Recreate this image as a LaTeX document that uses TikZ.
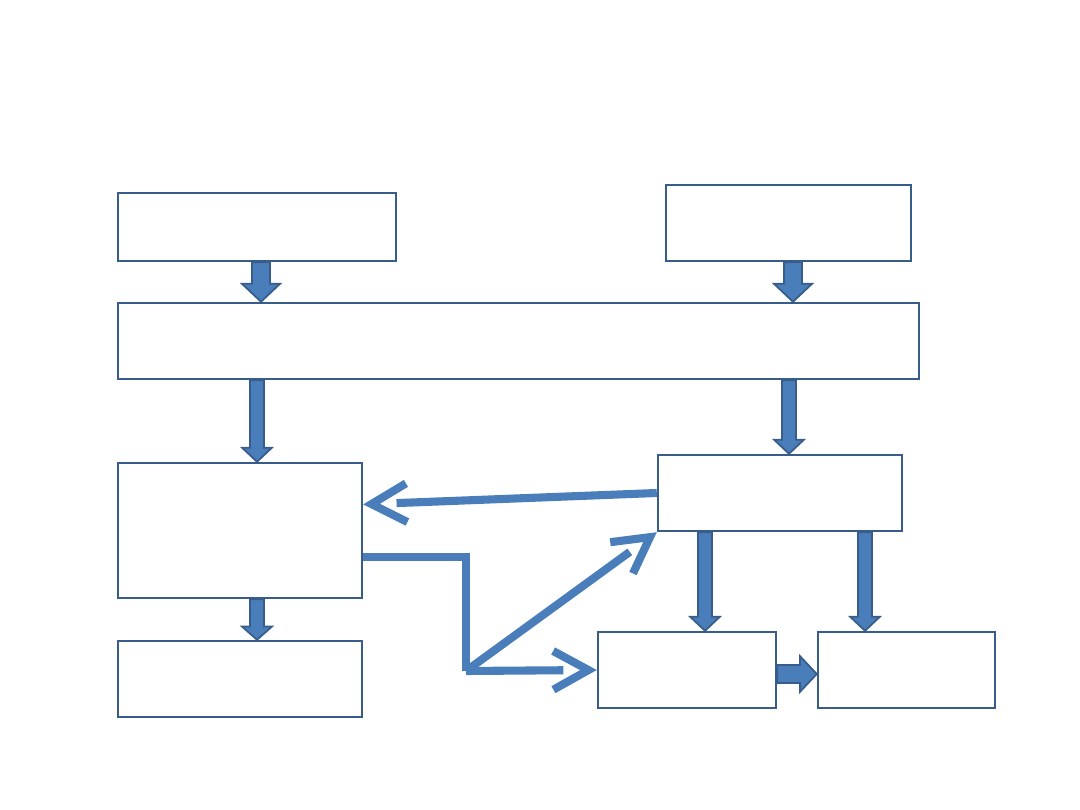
\documentclass[tikz,border=0pt]{standalone}
\usepackage{tikz}
\usetikzlibrary{arrows.meta,calc}
\definecolor{frameblue}{HTML}{385D8A}
\definecolor{fillblue}{HTML}{4A7EBB}

% block arrow pointing down: x (px), from node anchor, to node anchor, half shaft, half head, head length (pt)
\newcommand{\fatdown}[6]{%
  \draw[blk] let \p1=(#1,0 |- #2), \p2=(#1,0 |- #3) in
    (\x1-#4pt,\y1) -- (\x1-#4pt,\y2+#6pt) -- (\x1-#5pt,\y2+#6pt) -- (\x1,\y2)
    -- (\x1+#5pt,\y2+#6pt) -- (\x1+#4pt,\y2+#6pt) -- (\x1+#4pt,\y1) -- cycle;}
% block arrow pointing right: y (px), from, to, half shaft, half head, head length (pt)
\newcommand{\fatright}[6]{%
  \draw[blk] let \p1=(#2 |- 0,#1), \p2=(#3 |- 0,#1) in
    (\x1,\y1+#4pt) -- (\x2-#6pt,\y1+#4pt) -- (\x2-#6pt,\y1+#5pt) -- (\x2,\y1)
    -- (\x2-#6pt,\y1-#5pt) -- (\x2-#6pt,\y1-#4pt) -- (\x1,\y1-#4pt) -- cycle;}

\begin{document}
\begin{tikzpicture}[
  x=0.02cm, y=-0.02cm,
  box/.style={draw=frameblue, line width=1.4pt, fill=white, inner sep=0pt},
  blk/.style={fill=fillblue, draw=frameblue, line width=1pt, line join=miter},
  link/.style={draw=fillblue, line width=4.6pt, line cap=butt, line join=miter},
  barb/.style={shorten >=19pt,
               postaction={draw=fillblue, shorten >=0pt, dash pattern=on 0pt off 2000pt,
                           -{Straight Barb[length=20pt,width=22pt,sharp]}}},
]
\useasboundingbox (0,0) rectangle (1080,810);
% ----- boxes -----
\node[box, minimum width=5.56cm, minimum height=1.36cm] (src1) at (257,227) {};
\node[box, minimum width=4.90cm, minimum height=1.52cm] (src2) at (788.5,223) {};
\node[box, minimum width=16.02cm, minimum height=1.52cm] (merge) at (518.5,341) {};
\node[box, minimum width=4.88cm, minimum height=2.70cm] (left) at (240,530.5) {};
\node[box, minimum width=4.88cm, minimum height=1.52cm] (right) at (780,493) {};
\node[box, minimum width=4.88cm, minimum height=1.52cm] (out) at (240,679) {};
\node[box, minimum width=3.56cm, minimum height=1.52cm] (stepa) at (687,670) {};
\node[box, minimum width=3.54cm, minimum height=1.52cm] (stepb) at (906.5,670) {};
% ----- block arrows -----
\fatdown{261}{src1.south}{merge.north}{5.1}{10.8}{10.2}
\fatdown{793}{src2.south}{merge.north}{5.1}{10.8}{10.2}
\fatdown{257}{merge.south}{left.north}{4}{8.5}{8}
\fatdown{789}{merge.south}{right.north}{4}{8.5}{8}
\fatdown{257}{left.south}{out.north}{4}{8.5}{7.5}
\fatdown{705}{right.south}{stepa.north}{4}{8.5}{8}
\fatdown{865}{right.south}{stepb.north}{4}{8.5}{8}
\fatright{674}{stepa.east}{stepb.west}{5.1}{10.2}{9.6}
% ----- line arrows -----
\coordinate (knee) at (466,671);
\draw[link, barb] (right.west) -- ($(left.north east)!0.31!(left.south east)$);
\draw[link] ($(left.north east)!0.69!(left.south east)$) -| (knee);
\draw[link, barb] (knee) -- (stepa.west);
\draw[link, barb] (knee) -- (right.south west);
\end{tikzpicture}
\end{document}
